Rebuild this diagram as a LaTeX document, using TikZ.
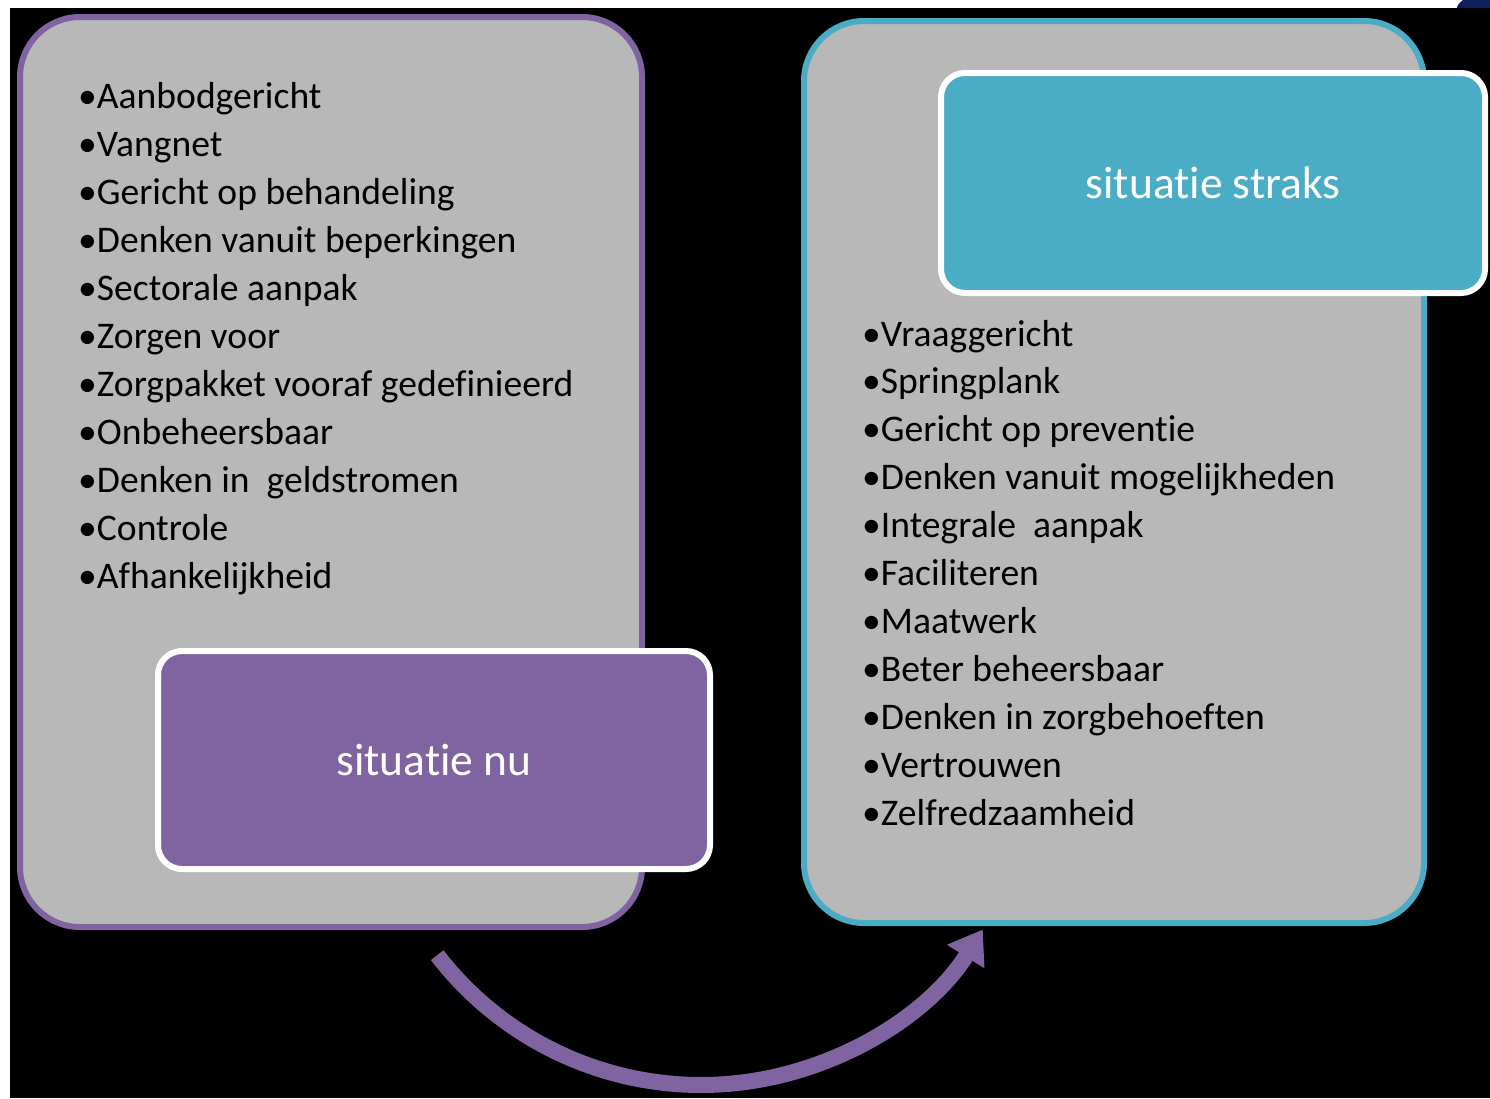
\documentclass[tikz,border=0pt]{standalone}
\usepackage{fontspec}
\setmainfont{Carlito}[Ligatures={NoCommon,NoRequired,NoContextual}]
\usetikzlibrary{arrows.meta,calc}
\definecolor{pp}{HTML}{8064A2}
\definecolor{bl}{HTML}{4BACC6}
\definecolor{gr}{HTML}{B8B8B8}
\definecolor{navy}{HTML}{0F1F5C}
\newcommand{\nl}{\kern0pt }
\tikzset{
  bigbox/.style={rectangle, rounded corners=60pt, line width=6pt, fill=gr, inner sep=0pt},
  titlebox/.style={rectangle, rounded corners=24pt, line width=6pt, draw=white, inner sep=0pt,
    text=white, font=\fontsize{45.5}{54}\selectfont},
  item/.style={anchor=base west, inner sep=0pt, text=black, font=\fontsize{37.6}{44}\selectfont},
  flow/.style={draw=pp, line width=16pt, -{Triangle[length=32pt,width=42pt]}}
}
\begin{document}
\begin{tikzpicture}[x=1pt,y=-1pt]
\fill[white] (0,0) rectangle (1490,1098);
\useasboundingbox (0,0) rectangle (1490,1098);
\fill[black] (10,8) rectangle (1490,1098);
\fill[navy] (1490,0) -- (1463,0) .. controls (1459,3) and (1457,6) .. (1457,8) -- (1490,8) -- cycle;
% arrow (behind boxes)
\coordinate (ac) at (701,752);
\coordinate (arcstart) at ($(ac)+(142.4:333)$);
% boxes
\node[bigbox, draw=pp, minimum width=622pt, minimum height=910pt] (L) at (331,472) {};
\node[bigbox, draw=bl, minimum width=620pt, minimum height=902pt] (R) at (1114,472) {};
\draw[flow] (arcstart) arc[start angle=142.4, end angle=32.2, radius=333];
\node[titlebox, fill=pp, minimum width=552pt, minimum height=218pt] (N) at (434,760) {situat\nl ie nu};
\node[titlebox, fill=bl, minimum width=544pt, minimum height=220pt] (S) at (1213,183) {situat\nl ie straks};
% left list
\foreach \t [count=\i from 0] in {Aanbodgericht, Vangnet, Gericht op behandeling,
  Denken vanuit beperkingen, Sectorale aanpak, Zorgen voor,
  Zorgpakket vooraf gedef\nl inieerd, Onbeheersbaar, Denken in~ geldstromen,
  Controle, Afhankelijkheid}
  \node[item] (li\i) at (78,{108+48*\i}) {•\t};
% right list
\foreach \t [count=\i from 0] in {Vraaggericht, Springplank, Gericht op prevent\nl ie,
  Denken vanuit mogelijkheden, Integrale~ aanpak, Faciliteren, Maatwerk,
  Beter beheersbaar, Denken in zorgbehoef\nl ten, Vertrouwen, Zelfredzaamheid}
  \node[item] (ri\i) at (862,{346+47.9*\i}) {•\t};
\end{tikzpicture}
\end{document}
